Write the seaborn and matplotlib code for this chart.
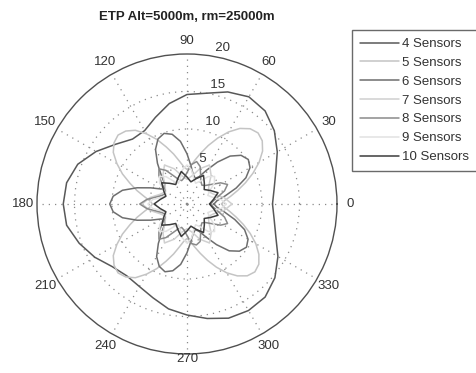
import numpy as np
import pandas as pd
import matplotlib
matplotlib.use("Agg")
import matplotlib.pyplot as plt
from matplotlib.lines import Line2D
import seaborn as sns

# ---------------------------------------------------------------- data
title = "ETP Alt=5000m, rm=25000m"
series_names = ["4 Sensors", "5 Sensors", "6 Sensors", "7 Sensors",
                "8 Sensors", "9 Sensors", "10 Sensors"]
series_colors = ["#585858", "#c4c4c4", "#6e6e6e", "#d0d0d0",
                 "#8a8a8a", "#e2e2e2", "#3c3c3c"]

angle_ticks = [0, 30, 60, 90, 120, 150, 180, 210, 240, 270, 300, 330]
angle_labels = ["0", "30", "60", "90", "120", "150", "180",
                "210", "240", "270", "300", "330"]
ring_ticks = [5, 10, 15, 20]
r_max = 20

# sample angles (degrees) and radii for every sensor count
theta_4 = np.arange(0, 360, 10)
r_4 = [11.4, 11.8, 12.6, 13.9, 15.2, 16.2, 16.5, 15.9, 15.0, 14.6,
       13.6, 12.3, 11.3, 11.3, 12.4, 14.0, 15.5, 16.3, 16.5, 16.3,
       15.3, 14.2, 13.0, 12.5, 12.7, 13.3, 14.2, 14.8, 15.5, 16.2,
       16.4, 16.2, 15.3, 14.0, 12.6, 11.8]

theta_5 = np.arange(0, 360, 5)
r_5 = [4.6, 5.0, 5.9, 7.0, 8.3, 9.7, 11.1, 12.3, 13.1, 13.4,
       13.1, 12.3, 11.1, 9.7, 8.3, 7.0, 5.9, 5.0, 4.6, 5.0,
       5.8, 6.9, 8.1, 9.5, 10.8, 12.0, 12.7, 13.0, 12.7, 12.0,
       10.8, 9.5, 8.1, 6.9, 5.8, 5.0, 4.6, 5.0, 5.8, 6.9,
       8.1, 9.5, 10.8, 12.0, 12.7, 13.0, 12.7, 12.0, 10.8, 9.5,
       8.1, 6.9, 5.8, 5.0, 4.6, 5.0, 5.8, 6.8, 8.0, 9.3,
       10.6, 11.7, 12.5, 12.8, 12.5, 11.7, 10.6, 9.3, 8.0, 6.8,
       5.8, 5.0]

theta_6 = np.arange(0, 360, 6)
r_6 = [3.6, 4.0, 5.2, 6.9, 8.6, 9.7, 10.1, 9.7, 8.6, 6.9,
       5.2, 4.0, 3.6, 4.0, 5.1, 6.7, 8.4, 9.5, 9.9, 9.5,
       8.4, 6.7, 5.1, 4.0, 3.6, 4.0, 5.3, 7.0, 8.8, 9.9,
       10.3, 9.9, 8.8, 7.0, 5.3, 4.0, 3.6, 4.0, 5.0, 6.5,
       8.1, 9.1, 9.5, 9.1, 8.1, 6.5, 5.0, 4.0, 3.6, 4.0,
       5.1, 6.7, 8.4, 9.4, 9.8, 9.4, 8.4, 6.7, 5.1, 4.0]

theta_7 = np.arange(0, 360, 10)
r_7 = [6.0, 5.0, 3.8, 3.3, 3.8, 5.0, 6.0, 5.0, 3.8, 3.3,
       3.8, 5.0, 6.0, 5.0, 3.8, 3.3, 3.8, 5.0, 6.0, 5.0,
       3.8, 3.3, 3.8, 5.0, 6.0, 5.0, 3.8, 3.3, 3.8, 5.0,
       6.0, 5.0, 3.8, 3.3, 3.8, 5.0]

theta_8 = np.linspace(0, 360, 56, endpoint=False)
r_8 = [3.2, 3.5, 4.2, 5.3, 6.0, 5.3, 4.2, 3.5,
       3.2, 3.5, 4.2, 5.3, 5.8, 5.3, 4.2, 3.5,
       3.2, 3.5, 4.2, 5.3, 6.0, 5.3, 4.2, 3.5,
       3.2, 3.5, 4.2, 5.4, 6.3, 5.4, 4.2, 3.5,
       3.2, 3.5, 4.2, 5.3, 6.0, 5.3, 4.2, 3.5,
       3.2, 3.5, 4.2, 5.3, 5.6, 5.3, 4.2, 3.5,
       3.2, 3.5, 4.2, 5.3, 6.0, 5.3, 4.2, 3.5]

theta_9 = np.arange(0, 360, 7.5)
r_9 = [5.2, 4.6, 3.5, 3.0, 3.5, 4.6, 5.2, 4.6, 3.5, 3.0,
       3.5, 4.6, 5.2, 4.6, 3.5, 3.0, 3.5, 4.6, 5.2, 4.6,
       3.5, 3.0, 3.5, 4.6, 5.2, 4.6, 3.5, 3.0, 3.5, 4.6,
       5.2, 4.6, 3.5, 3.0, 3.5, 4.6, 5.2, 4.6, 3.5, 3.0,
       3.5, 4.6, 5.2, 4.6, 3.5, 3.0, 3.5, 4.6]

theta_10 = np.arange(0, 360, 10)
r_10 = [3.0, 3.6, 4.4, 3.6, 3.0, 3.6, 4.4, 3.6, 3.0, 3.6,
        4.4, 3.6, 3.0, 3.6, 4.4, 3.6, 3.0, 3.6, 4.4, 3.6,
        3.0, 3.6, 4.4, 3.6, 3.0, 3.6, 4.4, 3.6, 3.0, 3.6,
        4.4, 3.6, 3.0, 3.6, 4.4, 3.6]

series_theta = [theta_4, theta_5, theta_6, theta_7, theta_8, theta_9, theta_10]
series_r = [r_4, r_5, r_6, r_7, r_8, r_9, r_10]

# ---------------------------------------------------------------- table
frames = []
for name, th, rr in zip(series_names, series_theta, series_r):
    th = list(th) + [th[0] + 360]      # close each curve
    rr = list(rr) + [rr[0]]
    frames.append(pd.DataFrame({"theta": np.deg2rad(th), "r": rr,
                                "series": name}))
df = pd.concat(frames, ignore_index=True)

# ---------------------------------------------------------------- figure
sns.set_theme(style="white")
plt.rcParams["font.family"] = ["Liberation Sans", "DejaVu Sans"]

W, H = 477, 373
fig = plt.figure(figsize=(W / 100, H / 100), dpi=100)
cx, cy, R = 187, 204, 150
ax = fig.add_axes([(cx - R) / W, (H - cy - R) / H, 2 * R / W, 2 * R / H],
                  projection="polar")

sns.lineplot(data=df, x="theta", y="r", hue="series",
             hue_order=series_names,
             palette=dict(zip(series_names, series_colors)),
             sort=False, estimator=None, linewidth=1.1,
             legend=False, ax=ax)

ax.set_ylim(0, r_max)
ax.set_xticks(np.deg2rad(angle_ticks))
ax.set_yticks(ring_ticks[:-1])
ax.set_xticklabels([])
ax.set_yticklabels([])
ax.set_xlabel("")
ax.set_ylabel("")
ax.grid(True, linestyle=(0, (1, 4)), color="#8a8a8a", linewidth=0.9)
ax.spines["polar"].set_color("#505050")
ax.spines["polar"].set_linewidth(1.0)
ax.set_facecolor("white")

# angle labels just outside the rim
for a, lab in zip(angle_ticks, angle_labels):
    rr = 20.6 if a == 270 else 21.8
    ax.text(np.deg2rad(a), rr, lab, ha="center", va="center",
            fontsize=9.5, color="#333333", clip_on=False)

# ring labels along the 82 degree ray
for rt in ring_ticks:
    ax.text(np.deg2rad(82), rt + r_max / 80, "  " + str(rt),
            ha="left", va="bottom", fontsize=9.5, color="#333333",
            clip_on=False)

fig.text(cx / W, 1 - 17 / H, title, ha="center", va="center",
         fontsize=9.5, fontweight="bold", color="#222222")

handles = [Line2D([], [], color=c, linewidth=1.1) for c in series_colors]
leg = fig.legend(handles, series_names, loc="upper left",
                 bbox_to_anchor=(352 / W, 1 - 30 / H),
                 frameon=True, fancybox=False, framealpha=1,
                 edgecolor="#6a6a6a", fontsize=9.5,
                 handlelength=3.0, handletextpad=0.2,
                 labelspacing=0.5, borderpad=0.6, borderaxespad=0)
leg.get_frame().set_linewidth(1.0)
for t in leg.get_texts():
    t.set_color("#333333")

fig.savefig("out.png", dpi=100, facecolor="white")
